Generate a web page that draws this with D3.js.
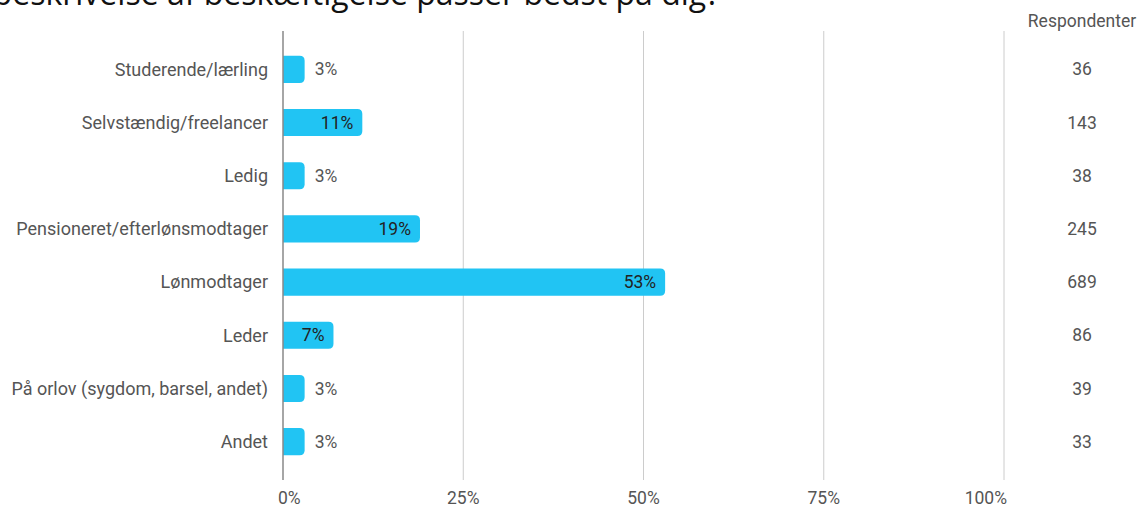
<!DOCTYPE html>
<html><head><meta charset="utf-8">
<script src="https://cdn.jsdelivr.net/npm/d3@7"></script>
<style>body{margin:0;background:#fff;overflow:hidden}svg{display:block}</style>
</head><body>
<script>
const title = "Hvilken beskrivelse af beskæftigelse passer bedst på dig?";
const categories = ["Studerende/lærling","Selvstændig/freelancer","Ledig","Pensioneret/efterlønsmodtager","Lønmodtager","Leder","På orlov (sygdom, barsel, andet)","Andet"];
const percents = [3, 11, 3, 19, 53, 7, 3, 3];
const respondents = [36, 143, 38, 245, 689, 86, 39, 33];
const ticks = [0, 25, 50, 75, 100];
const countHeader = "Respondenter";

const W = 1141, H = 507;
const svg = d3.select("body").append("svg").attr("width", W).attr("height", H);
const font = "Roboto, 'Noto Sans', sans-serif";
const fs = 17.5;

const x = d3.scaleLinear().domain([0, 100]).range([283, 1004]);
const y = d3.scaleBand().domain(categories).range([42.5, 468.5]).paddingInner(0.49).paddingOuter(0.25);

// title
svg.append("text").attr("x", 720).attr("y", 5).attr("text-anchor", "end")
  .attr("font-family", "'Open Sans', sans-serif").attr("font-size", 32).attr("fill", "#111")
  .text(title);

// grid
svg.append("g").selectAll("line").data(ticks.slice(1)).join("line")
  .attr("x1", d => x(d)).attr("x2", d => x(d)).attr("y1", 31).attr("y2", 480)
  .attr("stroke", "#cccccc").attr("stroke-width", 1);

// bars (rounded right side)
const r = 5;
svg.append("g").selectAll("path").data(categories).join("path")
  .attr("d", (c, i) => {
    const x0 = x(0), x1 = x(percents[i]), y0 = y(c), h = y.bandwidth();
    const rr = Math.min(r, (x1 - x0));
    return `M${x0},${y0}H${x1 - rr}Q${x1},${y0} ${x1},${y0 + rr}V${y0 + h - rr}Q${x1},${y0 + h} ${x1 - rr},${y0 + h}H${x0}Z`;
  })
  .attr("fill", "#21c4f3");

// zero axis
svg.append("line").attr("x1", x(0)).attr("x2", x(0)).attr("y1", 31).attr("y2", 480)
  .attr("stroke", "#888").attr("stroke-width", 1.5);

// value labels
svg.append("g").selectAll("text").data(categories).join("text")
  .attr("x", (c, i) => percents[i] >= 5 ? x(percents[i]) - 9 : x(percents[i]) + 10)
  .attr("y", c => y(c) + y.bandwidth() / 2)
  .attr("dy", "0.35em")
  .attr("text-anchor", (c, i) => percents[i] >= 5 ? "end" : "start")
  .attr("font-family", font).attr("font-size", fs)
  .attr("fill", (c, i) => percents[i] >= 5 ? "#222" : "#555")
  .text((c, i) => percents[i] + "%");

// category labels
svg.append("g").selectAll("text").data(categories).join("text")
  .attr("x", 268).attr("y", c => y(c) + y.bandwidth() / 2).attr("dy", "0.35em")
  .attr("text-anchor", "end").attr("font-family", font).attr("font-size", 18).attr("fill", "#555")
  .text(c => c);

// tick labels
svg.append("g").selectAll("text").data(ticks).join("text")
  .attr("x", (d, i) => i === 0 ? x(d) - 5 : i === ticks.length - 1 ? x(d) + 3 : x(d))
  .attr("y", 498).attr("dy", "0.35em")
  .attr("text-anchor", (d, i) => i === 0 ? "start" : i === ticks.length - 1 ? "end" : "middle")
  .attr("font-family", font).attr("font-size", fs).attr("fill", "#555")
  .text(d => d + "%");

// respondents
svg.append("text").attr("x", 1082).attr("y", 21).attr("dy", "0.35em").attr("text-anchor", "middle")
  .attr("font-family", font).attr("font-size", 17.5).attr("fill", "#555").text(countHeader);
svg.append("g").selectAll("text").data(categories).join("text")
  .attr("x", 1082).attr("y", c => y(c) + y.bandwidth() / 2).attr("dy", "0.35em")
  .attr("text-anchor", "middle").attr("font-family", font).attr("font-size", fs).attr("fill", "#555")
  .text((c, i) => respondents[i]);
</script>
</body></html>
